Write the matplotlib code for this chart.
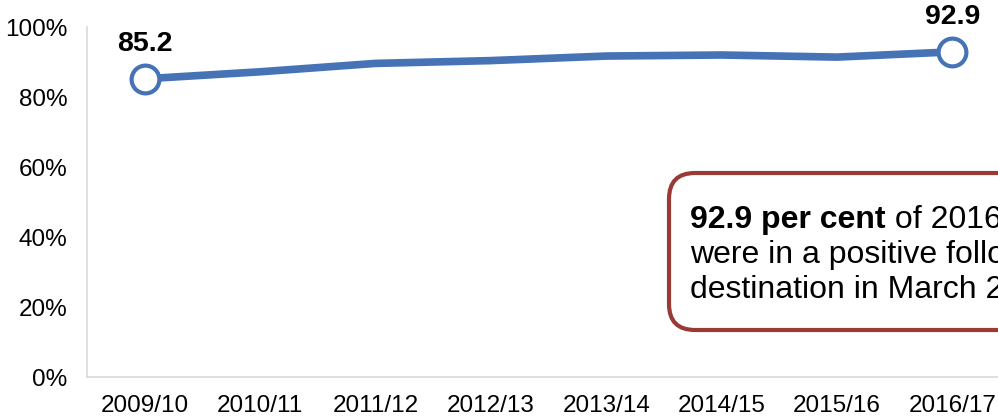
import matplotlib.pyplot as plt
from matplotlib.patches import FancyBboxPatch
from matplotlib.ticker import FuncFormatter

plt.rcParams['font.family'] = ['Liberation Sans', 'DejaVu Sans']

# Data
years = ['2009/10', '2010/11', '2011/12', '2012/13', '2013/14', '2014/15', '2015/16', '2016/17']
positive = [85.2, 87.2, 89.6, 90.4, 91.7, 92.0, 91.4, 92.9]

line_col = '#4673b5'
box_col = '#993a37'

fig = plt.figure(figsize=(9.98, 4.17), dpi=100)
# axes run past the right edge, as in the cropped original
ax = fig.add_axes([87 / 998, 40 / 417, 923 / 998, 350 / 417])

x = list(range(len(years)))
ax.plot(x, positive, color=line_col, linewidth=5.5, solid_capstyle='round', zorder=2)
for i in [0, len(years) - 1]:
    ax.plot(x[i], positive[i], 'o', markersize=20, markerfacecolor='white',
            markeredgecolor=line_col, markeredgewidth=3, zorder=3)
    ax.annotate('%.1f' % positive[i], (x[i], positive[i]), xytext=(0, 16),
                textcoords='offset points', ha='center', va='bottom',
                fontsize=20.5, fontweight='bold')

ax.set_xlim(-0.5, len(years) - 0.5)
ax.set_ylim(0, 100)
ax.set_yticks([0, 20, 40, 60, 80, 100])
ax.yaxis.set_major_formatter(FuncFormatter(lambda v, p: '%d%%' % v))
ax.set_xticks(x)
ax.set_xticklabels(years)
ax.tick_params(axis='both', length=0, labelsize=17.5)
ax.tick_params(axis='x', pad=13)
ax.tick_params(axis='y', pad=14)

for s in ['top', 'right']:
    ax.spines[s].set_visible(False)
for s in ['left', 'bottom']:
    ax.spines[s].set_color('#d9d9d9')
    ax.spines[s].set_linewidth(1.2)

# Callout box (inch coordinates so the corners stay round)
box = FancyBboxPatch((6.69, 0.87), 4.0, 1.57,
                     boxstyle='round,pad=0,rounding_size=0.26',
                     transform=fig.dpi_scale_trans, facecolor='white',
                     edgecolor=box_col, linewidth=3, zorder=5)
fig.add_artist(box)

fs = 23
t1 = fig.text(690 / 998, 189 / 417, '92.9 per cent', fontsize=fs,
              fontweight='bold', va='baseline', zorder=6)
fig.canvas.draw()
ext = t1.get_window_extent()
fig.text(ext.x1 / fig.bbox.width, 189 / 417, ' of 2016/17 school leavers',
         fontsize=fs, va='baseline', zorder=6)
fig.text(690 / 998, 154 / 417, 'were in a positive follow-up', fontsize=fs,
         va='baseline', zorder=6)
fig.text(690 / 998, 119 / 417, 'destination in March 2018', fontsize=fs,
         va='baseline', zorder=6)

fig.savefig('out.png', dpi=100)
